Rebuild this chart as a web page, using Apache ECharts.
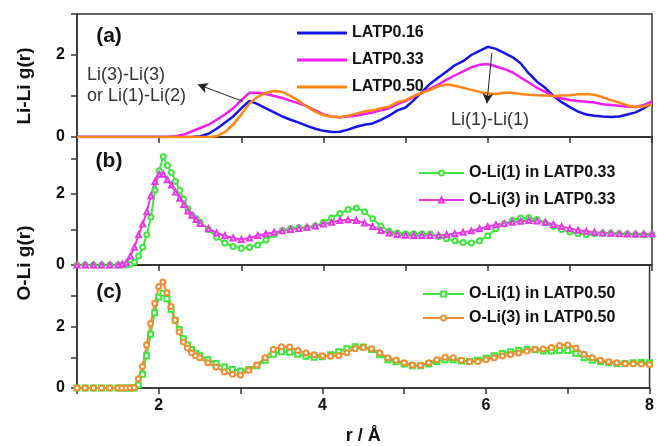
<!DOCTYPE html>
<html>
<head>
<meta charset="utf-8">
<title>Li-Li / O-Li g(r)</title>
<script src="https://cdn.jsdelivr.net/npm/echarts@6/dist/echarts.min.js"></script>
<style>
html,body{margin:0;padding:0;background:#fff;}
#main{width:657px;height:446px;}
</style>
</head>
<body>
<div id="main"></div>
<script type="text/javascript">
// r grid for panel (a), step 0.1
var rA = [1.0,1.1,1.2,1.3,1.4,1.5,1.6,1.7,1.8,1.9,
	2.0,2.1,2.2,2.3,2.4,2.5,2.6,2.7,2.8,2.9,
	3.0,3.1,3.2,3.3,3.4,3.5,3.6,3.7,3.8,3.9,
	4.0,4.1,4.2,4.3,4.4,4.5,4.6,4.7,4.8,4.9,
	5.0,5.1,5.2,5.3,5.4,5.5,5.6,5.7,5.8,5.9,
	6.0,6.1,6.2,6.3,6.4,6.5,6.6,6.7,6.8,6.9,
	7.0,7.1,7.2,7.3,7.4,7.5,7.6,7.7,7.8,7.9,
	8.0];
// r grid for panels (b) and (c), finer near the first peak
var rB = [1.0,1.1,1.2,1.3,1.4,1.5,
	1.55,1.6,1.65,1.7,1.75,1.8,1.85,1.9,1.95,2.0,
	2.05,2.1,2.15,2.2,2.25,2.3,2.35,2.4,2.45,2.5,
	2.6,2.7,2.8,2.9,
	3.0,3.1,3.2,3.3,3.4,3.5,3.6,3.7,3.8,3.9,
	4.0,4.1,4.2,4.3,4.4,4.5,4.6,4.7,4.8,4.9,
	5.0,5.1,5.2,5.3,5.4,5.5,5.6,5.7,5.8,5.9,
	6.0,6.1,6.2,6.3,6.4,6.5,6.6,6.7,6.8,6.9,
	7.0,7.1,7.2,7.3,7.4,7.5,7.6,7.7,7.8,7.9,
	8.0];

// (a) Li-Li g(r)
var liLi016 = [0,0,0,0,0,0,0,0,0,0,
	0,0,0,0,0,0.02,0.08,0.2,0.35,0.5,
	0.7,0.88,0.8,0.7,0.6,0.5,0.42,0.35,0.27,0.2,
	0.15,0.12,0.13,0.18,0.25,0.3,0.33,0.42,0.52,0.65,
	0.72,0.9,1.1,1.3,1.45,1.6,1.75,1.85,2.0,2.1,
	2.2,2.15,2.05,1.95,1.8,1.55,1.35,1.2,1.0,0.85,
	0.73,0.62,0.55,0.52,0.5,0.49,0.5,0.55,0.6,0.7,
	0.82];
var liLi033 = [0,0,0,0,0,0,0,0,0,0,
	0,0,0.02,0.06,0.14,0.22,0.3,0.42,0.55,0.7,
	0.9,1.08,1.08,1.05,1.0,0.95,0.88,0.82,0.75,0.65,
	0.55,0.5,0.48,0.5,0.52,0.56,0.6,0.65,0.7,0.8,
	0.88,0.98,1.08,1.18,1.28,1.4,1.5,1.6,1.7,1.76,
	1.78,1.72,1.66,1.58,1.45,1.33,1.2,1.1,1.0,0.94,
	0.9,0.88,0.86,0.84,0.8,0.78,0.76,0.74,0.73,0.78,
	0.87];
var liLi050 = [0,0,0,0,0,0,0,0,0,0,
	0,0,0,0,0,0,0,0.02,0.12,0.3,
	0.55,0.82,0.98,1.08,1.12,1.1,1.0,0.88,0.74,0.62,
	0.53,0.5,0.48,0.52,0.57,0.62,0.65,0.7,0.74,0.85,
	0.9,1.0,1.08,1.15,1.24,1.28,1.25,1.2,1.15,1.1,
	1.06,1.05,1.08,1.08,1.05,1.03,1.02,1.01,1.0,1.01,
	1.02,1.04,1.05,1.03,0.97,0.9,0.84,0.77,0.73,0.75,
	0.8];

// (b) O-Li g(r) in LATP0.33
var oLi1_033 = [0,0,0,0,0,0,
	0,0,0.02,0.08,0.25,0.5,0.85,1.35,2.1,2.65,
	3.05,2.8,2.6,2.35,2.1,1.85,1.58,1.4,1.3,1.2,
	1.0,0.78,0.62,0.52,
	0.47,0.49,0.56,0.7,0.86,0.97,1.03,1.05,1.05,1.1,
	1.2,1.32,1.45,1.56,1.6,1.5,1.3,1.1,0.95,0.9,
	0.88,0.88,0.88,0.87,0.8,0.74,0.68,0.63,0.62,0.68,
	0.82,1.02,1.15,1.25,1.32,1.33,1.28,1.18,1.08,1.0,
	0.93,0.88,0.86,0.88,0.89,0.89,0.88,0.87,0.86,0.85,
	0.85];
var oLi3_033 = [0,0,0,0,0,0,
	0.02,0.06,0.25,0.5,0.85,1.15,1.5,1.95,2.35,2.55,
	2.55,2.4,2.25,2.05,1.88,1.7,1.52,1.4,1.28,1.17,
	1.02,0.9,0.82,0.76,
	0.72,0.76,0.83,0.88,0.92,0.96,1.0,1.03,1.06,1.1,
	1.15,1.2,1.25,1.27,1.25,1.18,1.08,0.97,0.9,0.86,
	0.84,0.83,0.83,0.83,0.84,0.85,0.88,0.92,0.96,1.02,
	1.08,1.13,1.17,1.2,1.23,1.25,1.24,1.2,1.14,1.08,
	1.03,0.98,0.95,0.92,0.9,0.89,0.88,0.87,0.87,0.87,
	0.88];

// (c) O-Li g(r) in LATP0.50
var oLi1_050 = [0,0,0,0,0,0,
	0,0,0,0,0.1,0.45,1.05,1.75,2.45,2.95,
	3.08,2.9,2.55,2.2,1.9,1.6,1.4,1.25,1.13,1.05,
	0.92,0.8,0.68,0.6,
	0.55,0.6,0.72,0.9,1.1,1.18,1.16,1.1,1.03,1.0,
	1.02,1.08,1.18,1.28,1.34,1.33,1.25,1.08,0.92,0.85,
	0.78,0.72,0.72,0.78,0.86,0.92,0.92,0.88,0.86,0.9,
	0.97,1.05,1.12,1.18,1.22,1.25,1.24,1.2,1.2,1.22,
	1.22,1.12,0.98,0.9,0.85,0.82,0.8,0.8,0.82,0.83,
	0.82];
var oLi3_050 = [0,0,0,0,0,0,
	0,0,0,0.02,0.3,0.7,1.4,2.1,2.75,3.3,
	3.45,3.1,2.65,2.2,1.82,1.5,1.3,1.15,1.05,0.98,
	0.82,0.68,0.52,0.45,
	0.42,0.58,0.75,0.98,1.25,1.34,1.33,1.22,1.14,1.08,
	1.05,1.03,1.06,1.15,1.28,1.32,1.28,1.15,0.98,0.9,
	0.82,0.75,0.74,0.82,0.92,1.0,0.98,0.9,0.85,0.86,
	0.92,0.98,1.04,1.09,1.14,1.2,1.25,1.27,1.32,1.38,
	1.4,1.3,1.1,0.98,0.9,0.85,0.82,0.8,0.79,0.78,
	0.76];

var xTickLabels = [2, 4, 6, 8];
var yTickLabels = [0, 2];

var font = 'Arial, "Liberation Sans", sans-serif';
var axisColor = '#333';

function pairs(xs, ys){
	var out = [];
	for(var i = 0;i < xs.length;i++){
		out.push([xs[i], ys[i]]);
	}
	return out;
}

function makeGrid(top, height){
	return {left:77, right:5, top:top, height:height, show:true,
		borderColor:axisColor, borderWidth:1.5, backgroundColor:'transparent'};
}

function makeXAxis(idx, showLabel){
	var ax = {
		gridIndex: idx, type:'value', min:1, max:8, interval:1,
		axisLine:{show:true, onZero:false, lineStyle:{color:axisColor, width:1.5}},
		axisTick:{show:true, inside:false, length:6, lineStyle:{color:axisColor, width:1.5}},
		splitLine:{show:false},
		axisLabel:{
			show: showLabel, margin:10, color:'#111', fontSize:16, fontWeight:'bold', fontFamily:font,
			formatter:function(v){ return xTickLabels.indexOf(v) != -1 ? String(v) : ''; }
		}
	};
	if(showLabel){
		ax.name = 'r / Å';
		ax.nameLocation = 'middle';
		ax.nameGap = 39;
		ax.nameTextStyle = {color:'#111', fontSize:18, fontWeight:'bold', fontFamily:font};
	}
	return ax;
}

function makeYAxis(idx, max){
	return {
		gridIndex: idx, type:'value', min:0, max:max, interval:1,
		axisLine:{show:true, onZero:false, lineStyle:{color:axisColor, width:1.5}},
		axisTick:{show:true, inside:false, length:6, lineStyle:{color:axisColor, width:1.5}},
		splitLine:{show:false},
		axisLabel:{
			margin:12, color:'#111', fontSize:16, fontWeight:'bold', fontFamily:font,
			formatter:function(v){ return yTickLabels.indexOf(v) != -1 ? String(v) : ''; }
		}
	};
}

function lineSeries(name, idx, xs, ys, color){
	return {
		name:name, type:'line', xAxisIndex:idx, yAxisIndex:idx,
		data:pairs(xs, ys), symbol:'none', smooth:false,
		lineStyle:{color:color, width:2.5}, itemStyle:{color:color}
	};
}

function markerSeries(name, idx, xs, ys, color, symbol){
	return {
		name:name, type:'line', xAxisIndex:idx, yAxisIndex:idx,
		data:pairs(xs, ys), symbol:symbol, symbolSize:5, showSymbol:true, showAllSymbol:true,
		lineStyle:{color:color, width:2}, itemStyle:{color:color, borderColor:color, borderWidth:1.2}
	};
}

var legendText = {color:'#111', fontSize:16, fontWeight:'bold', fontFamily:font, lineHeight:16};

var blueSeries = lineSeries('LATP0.16', 0, rA, liLi016, '#1414e6');
var magSeries = lineSeries('LATP0.33', 0, rA, liLi033, '#f01ef0');
var orgSeries = lineSeries('LATP0.50', 0, rA, liLi050, '#ff8514');
orgSeries.markLine = {
	silent:true, symbol:['none','arrow'], symbolSize:[8,10],
	lineStyle:{color:'#222', width:1, type:'solid'}, label:{show:false},
	data:[
		[{coord:[3.02, 0.87]}, {coord:[2.47, 1.28]}],
		[{coord:[6.05, 2.05]}, {coord:[5.99, 0.82]}]
	]
};

var option = {
	animation:false,
	backgroundColor:'#fff',
	grid:[makeGrid(14, 123), makeGrid(137, 128), makeGrid(265, 130)],
	xAxis:[makeXAxis(0, false), makeXAxis(1, false), makeXAxis(2, true)],
	yAxis:[makeYAxis(0, 3), makeYAxis(1, 3.6), makeYAxis(2, 4)],
	legend:[
		{data:['LATP0.16','LATP0.33','LATP0.50'], icon:'rect', orient:'vertical', left:292, top:20,
			itemWidth:50, itemHeight:3, itemGap:11, textStyle:legendText},
		{data:['O-Li(1) in LATP0.33','O-Li(3) in LATP0.33'], orient:'vertical', left:413, top:160,
			itemWidth:45, itemHeight:6, itemGap:11, textStyle:legendText},
		{data:['O-Li(1) in LATP0.50','O-Li(3) in LATP0.50'], orient:'vertical', left:417, top:281,
			itemWidth:41, itemHeight:6, itemGap:8, textStyle:legendText}
	],
	graphic:[
		{type:'text', x:109, y:36, style:{text:'(a)', fill:'#111', font:'bold 21px ' + font, align:'center', verticalAlign:'middle'}},
		{type:'text', x:109, y:161, style:{text:'(b)', fill:'#111', font:'bold 21px ' + font, align:'center', verticalAlign:'middle'}},
		{type:'text', x:109, y:292, style:{text:'(c)', fill:'#111', font:'bold 21px ' + font, align:'center', verticalAlign:'middle'}},
		{type:'text', x:87, y:75, style:{text:'Li(3)-Li(3)', fill:'#333', font:'18px ' + font, align:'left', verticalAlign:'middle'}},
		{type:'text', x:87, y:96, style:{text:'or Li(1)-Li(2)', fill:'#333', font:'18px ' + font, align:'left', verticalAlign:'middle'}},
		{type:'text', x:490, y:120, style:{text:'Li(1)-Li(1)', fill:'#333', font:'18px ' + font, align:'center', verticalAlign:'middle'}},
		{type:'text', x:25, y:86, rotation:Math.PI/2, style:{text:'Li-Li g(r)', fill:'#111', font:'bold 19px ' + font, align:'center', verticalAlign:'middle'}},
		{type:'text', x:25, y:263, rotation:Math.PI/2, style:{text:'O-Li g(r)', fill:'#111', font:'bold 19px ' + font, align:'center', verticalAlign:'middle'}}
	],
	series:[
		blueSeries, magSeries, orgSeries,
		markerSeries('O-Li(1) in LATP0.33', 1, rB, oLi1_033, '#3ee63e', 'emptyCircle'),
		markerSeries('O-Li(3) in LATP0.33', 1, rB, oLi3_033, '#e838e8', 'emptyTriangle'),
		markerSeries('O-Li(1) in LATP0.50', 2, rB, oLi1_050, '#3ee63e', 'emptyRect'),
		markerSeries('O-Li(3) in LATP0.50', 2, rB, oLi3_050, '#f08c32', 'emptyCircle')
	]
};

var myChart = echarts.init(document.getElementById('main'));
myChart.setOption(option);
</script>
</body>
</html>
